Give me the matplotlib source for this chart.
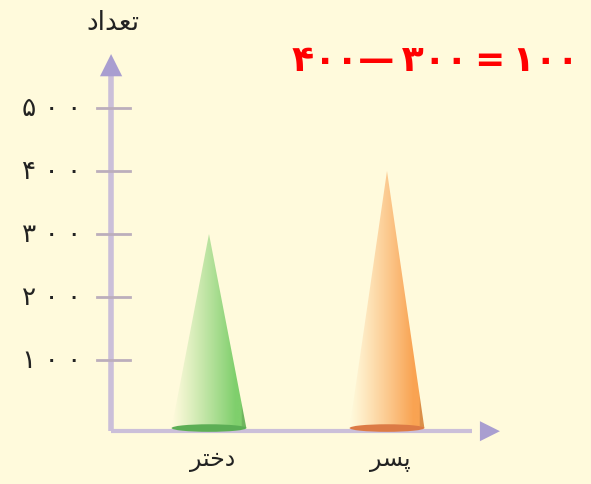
import numpy as np
import matplotlib
matplotlib.use('Agg')
import matplotlib.pyplot as plt
from matplotlib.patches import Polygon, Ellipse
from matplotlib.colors import to_rgb

# data
categories = ['\ufeae\ufe98\ufea7\ufea9', '\ufeae\ufeb4\ufb58']   # دختر , پسر (shaped, visual order)
values = [300, 400]
tick_values = [100, 200, 300, 400, 500]
tick_labels = ['\u06f1 \u06f0 \u06f0', '\u06f2 \u06f0 \u06f0', '\u06f3 \u06f0 \u06f0',
               '\u06f4 \u06f0 \u06f0', '\u06f5 \u06f0 \u06f0']
ylabel = '\ufea9\ufe8d\ufeaa\ufecc\ufe97'   # تعداد
equation = '\u06f4\u06f0\u06f0\u2014\u2009\u06f3\u06f0\u06f0\u2009=\u2009\u06f1\u06f0\u06f0'

bg = '#fffadc'
cone_colors = ['#7fcf6c', '#f9a352']
base_colors = ['#5cae55', '#dc7a45']

fig = plt.figure(figsize=(5.91, 4.85), dpi=100, facecolor=bg)
ax = fig.add_axes([0, 0, 1, 1])
ax.set_facecolor(bg)
ax.axis('off')
xlim = (-1.174, 2.146)
ylim = (-96.8, 673)

x = np.arange(len(categories))
hw = 0.21
base_y = -8

for i, (xc, v) in enumerate(zip(x, values)):
    c = np.array(to_rgb(cone_colors[i]))
    b = np.array(to_rgb(bg))
    t = np.linspace(0, 1, 200)
    w = np.clip(t / 0.85, 0, 1) ** 1.1
    row = b[None, :] * (1 - w[:, None]) + c[None, :] * w[:, None]
    row[t > 0.93] = row[t > 0.93] * 0.88
    img = np.tile(row[None, :, :], (50, 1, 1))
    poly = Polygon([(xc - hw, base_y), (xc + hw, base_y), (xc, v)], closed=True,
                   facecolor='none', edgecolor='none')
    ax.add_patch(poly)
    im = ax.imshow(img, extent=[xc - hw, xc + hw, base_y, v], aspect='auto',
                   origin='lower', zorder=2, interpolation='bilinear')
    im.set_clip_path(poly)
    ax.add_patch(Ellipse((xc, base_y), 2 * hw, 12, facecolor=base_colors[i],
                         edgecolor='none', zorder=3))
    ax.text(xc + 0.02, -57, categories[i], ha='center', va='center', fontsize=17,
            color='#222222')

# axes with arrows
ax_x = -0.55
ax_y = -13
shaft = '#cbbfd9'
head = '#a99ed0'
ax.plot([ax_x, ax_x], [ax_y, 560], color=shaft, lw=4, solid_capstyle='butt', zorder=1)
ax.plot([ax_x, 1.48], [ax_y, ax_y], color=shaft, lw=3, solid_capstyle='butt', zorder=1)
ax.annotate('', xy=(ax_x, 590), xytext=(ax_x, 530),
            arrowprops=dict(arrowstyle='-|>', color=head, lw=0, mutation_scale=40))
ax.annotate('', xy=(1.65, ax_y), xytext=(1.42, ax_y),
            arrowprops=dict(arrowstyle='-|>', color=head, lw=0, mutation_scale=36))

for v, lab in zip(tick_values, tick_labels):
    ax.plot([-0.63, -0.445], [v, v], color='#bcaebc', lw=2, zorder=1)
    ax.text(-0.72, v, lab, ha='right', va='center', fontsize=19, color='#222222')

ax.text(ax_x + 0.01, 637, ylabel, ha='center', va='center', fontsize=19, color='#222222')
ax.text(0.465, 576, equation, ha='left', va='center', fontsize=26,
        fontweight='bold', color='#ff0000')

ax.set_xlim(*xlim)
ax.set_ylim(*ylim)
fig.savefig('out.png', dpi=100, facecolor=bg)
